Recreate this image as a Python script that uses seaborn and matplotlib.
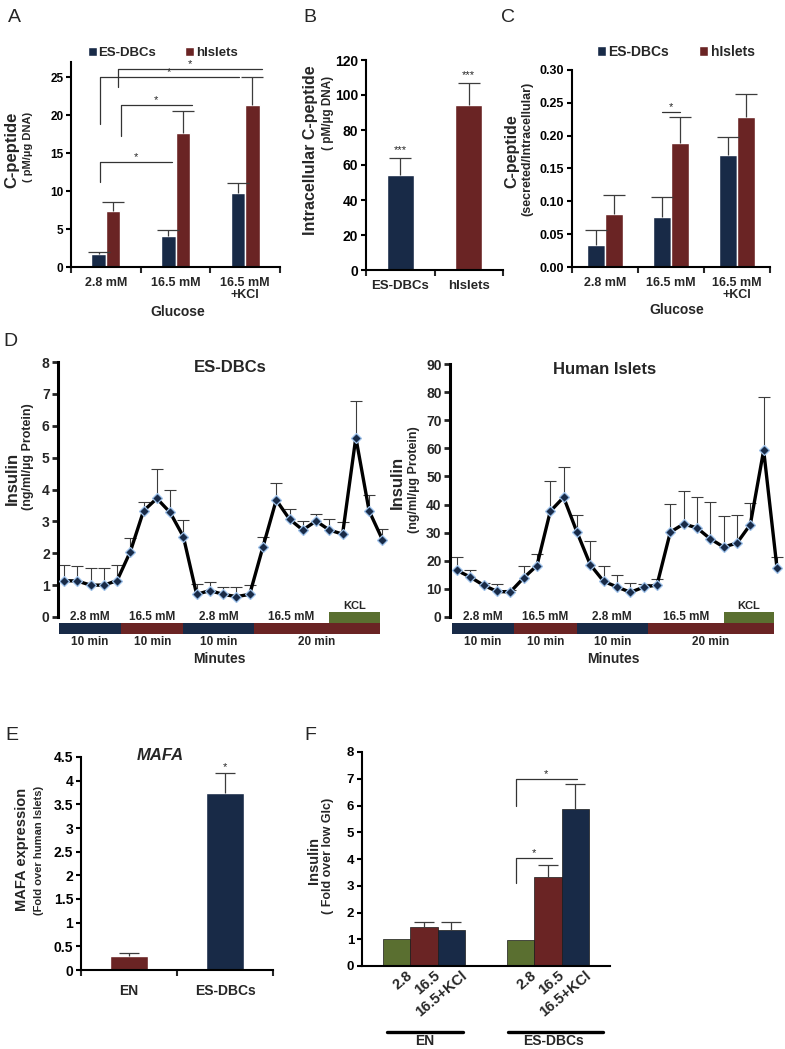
"""
Six-panel figure: C-peptide secretion, intracellular content, perifusion
traces, MAFA expression and insulin fold change (ES-DBCs vs human islets).
"""

import numpy as np
import pandas as pd

import matplotlib
matplotlib.use("Agg")
import matplotlib.pyplot as plt
import seaborn as sns
from matplotlib.patches import Patch, Rectangle
from matplotlib.lines import Line2D
from matplotlib.transforms import ScaledTranslation

sns.set_style("ticks")
plt.rcParams["font.family"] = ["Liberation Sans", "DejaVu Sans"]
plt.rcParams["font.weight"] = "bold"

NAVY = "#182a47"
MAROON = "#6a2424"
GREEN = "#5a6f30"
ERR_COLOR = "#3c3c3c"

# ---- data ----
GLUCOSE = ["2.8 mM", "16.5 mM", "16.5 mM\n+KCl"]
SOURCES = ["ES-DBCs", "hIslets"]

A_ES = [1.75, 4.03, 9.74]
A_ES_ERR = [0.25, 0.79, 1.31]
A_HI = [7.37, 17.7, 21.4]
A_HI_ERR = [1.23, 2.9, 3.6]
# (x left, x right, y low, y top)
A_BRACKETS = [(-0.09, 0.95, 11.2, 13.8), (0.22, 1.23, 17.3, 21.3),
              (-0.09, 1.91, 18.9, 25.0), (0.18, 2.24, 23.7, 26.1)]

B_MEAN = [54.3, 94.1]
B_ERR = [9.7, 12.9]

C_ES = [0.033, 0.076, 0.170]
C_ES_ERR = [0.023, 0.030, 0.028]
C_HI = [0.080, 0.189, 0.229]
C_HI_ERR = [0.030, 0.039, 0.035]

D_ES = [1.14, 1.13, 1.00, 1.00, 1.14, 2.05, 3.33, 3.72, 3.28, 2.52,
        0.71, 0.83, 0.71, 0.64, 0.71, 2.20, 3.67, 3.07, 2.73, 3.01,
        2.73, 2.60, 5.63, 3.33, 2.43]
D_ES_ERR = [0.49, 0.48, 0.55, 0.53, 0.49, 0.44, 0.29, 0.92, 0.72, 0.52,
            0.31, 0.26, 0.24, 0.31, 0.29, 0.32, 0.54, 0.31, 0.28, 0.22,
            0.34, 0.39, 1.14, 0.49, 0.32]
D_HI = [16.6, 14.2, 11.3, 9.1, 8.9, 13.9, 18.3, 37.6, 42.6, 30.2,
        18.6, 12.7, 10.7, 8.8, 10.6, 11.4, 30.2, 33.1, 31.7, 27.8,
        24.9, 26.3, 32.9, 59.3, 17.4]
D_HI_ERR = [4.8, 2.6, 0.7, 2.6, 0.6, 4.1, 4.1, 10.7, 10.8, 6.0,
            8.3, 5.3, 4.1, 3.3, 1.3, 2.1, 10.0, 11.6, 10.9, 13.0,
            10.9, 9.9, 7.7, 18.9, 4.0]
STEP_LABELS = ["2.8 mM", "16.5 mM", "2.8 mM", "16.5 mM"]
STEP_MINUTES = ["10 min", "10 min", "10 min", "20 min"]
STEP_EDGES = [-0.4, 4.3, 9.0, 14.3, 23.8]
KCL_START = 20.0

E_CELLS = ["EN", "ES-DBCs"]
E_MEAN = [0.29, 3.75]
E_ERR = [0.06, 0.41]

F_CELLS = ["EN", "ES-DBCs"]
F_GLUCOSE = ["2.8", "16.5", "16.5+KCl"]
F_EN = [1.0, 1.46, 1.35]
F_EN_ERR = [0.0, 0.18, 0.28]
F_ES = [0.97, 3.31, 5.88]
F_ES_ERR = [0.0, 0.48, 0.92]
F_BRACKETS = [(0.74, 1.03, 3.1, 4.05), (0.74, 1.23, 6.0, 7.0)]

W, H = 785, 1049
fig = plt.figure(figsize=(W / 100, H / 100), dpi=100)


def px_axes(left, top, right, bottom):
    return fig.add_axes([left / W, 1 - bottom / H, (right - left) / W, (bottom - top) / H])


def px_text(x, y, s, **kw):
    kw.setdefault("ha", "center")
    kw.setdefault("va", "center")
    return fig.text(x / W, 1 - y / H, s, **kw)


def style_axes(ax, ysize, spine_w=1.5):
    sns.despine(ax=ax)
    for side in ("left", "bottom"):
        ax.spines[side].set_linewidth(spine_w)
        ax.spines[side].set_color("black")
    ax.tick_params(axis="y", direction="out", length=3.5, width=spine_w,
                   labelsize=ysize, pad=2, colors="black")
    ax.set_xlabel("")
    ax.set_ylabel("")


def category_axis(ax, n, xsize, pad=7):
    ax.set_xlim(-0.5, n - 0.5)
    ax.set_xticks(np.arange(-0.5, n), minor=True)
    ax.tick_params(axis="x", which="minor", length=4, width=1.5, direction="out")
    ax.tick_params(axis="x", which="major", length=0, labelsize=xsize, pad=pad)
    for lbl in ax.get_xticklabels():
        lbl.set_linespacing(1.0)


def plus_errorbars(ax, xs, ys, errs, capsize, lw=0.9, zorder=3):
    """Excel-style error bars: upper half only, one cap at the top."""
    _, caps, _ = ax.errorbar(xs, ys, yerr=[np.zeros(len(errs)), errs], fmt="none",
                             ecolor=ERR_COLOR, elinewidth=lw, capsize=capsize,
                             capthick=lw, zorder=zorder)
    for cap in caps:
        if np.allclose(cap.get_ydata(), ys):
            cap.set_visible(False)


def bar_errorbars(ax, container, errs, capsize=8):
    xs, ys, es = [], [], []
    for p, e in zip(container, errs):
        if e > 0:
            xs.append(p.get_x() + p.get_width() / 2)
            ys.append(p.get_height())
            es.append(e)
    plus_errorbars(ax, xs, ys, es, capsize)


def brackets(ax, specs, size=8):
    for xl, xr, ylo, ytop in specs:
        ax.plot([xl, xl, xr], [ylo, ytop, ytop], color="#333333", lw=0.9,
                clip_on=False, zorder=4)
        ax.text((xl + xr) / 2, ytop, "*", ha="center", va="bottom", fontsize=size,
                fontweight="normal")


def two_source_legend(ax, x, y, size):
    handles = [Patch(facecolor=NAVY), Patch(facecolor=MAROON)]
    ax.legend(handles, SOURCES, ncol=2, loc="center left", bbox_to_anchor=(x / W, 1 - y / H),
              bbox_transform=fig.transFigure, frameon=False, handlelength=0.65,
              handleheight=0.65, handletextpad=0.15, columnspacing=2.2,
              borderpad=0, borderaxespad=0, prop={"size": size, "weight": "bold"})


# ---- Panel A: secreted C-peptide ----
ax = px_axes(71, 62, 280, 267)
df_a = pd.DataFrame({"glucose": GLUCOSE * 2,
                     "source": [SOURCES[0]] * 3 + [SOURCES[1]] * 3,
                     "cpep": A_ES + A_HI})
sns.barplot(data=df_a, x="glucose", y="cpep", hue="source", hue_order=SOURCES,
            palette=[NAVY, MAROON], width=0.42, errorbar=None, legend=False,
            saturation=1, ax=ax)
bars = list(ax.containers)
bar_errorbars(ax, bars[0], A_ES_ERR)
bar_errorbars(ax, bars[1], A_HI_ERR)
style_axes(ax, 8.5)
ax.set_ylim(0, 27)
ax.set_yticks(range(0, 26, 5))
category_axis(ax, 3, 9)
brackets(ax, A_BRACKETS)
two_source_legend(ax, 88, 53, 9.5)
px_text(12, 150, "C-peptide", rotation=90, fontsize=12)
px_text(28, 147, "( pM/µg DNA)", rotation=90, fontsize=8)
px_text(178, 312, "Glucose", fontsize=10)

# ---- Panel B: intracellular C-peptide ----
ax = px_axes(366, 60, 503, 270)
df_b = pd.DataFrame({"source": SOURCES, "cpep": B_MEAN})
sns.barplot(data=df_b, x="source", y="cpep", hue="source", palette=[NAVY, MAROON],
            width=0.4, errorbar=None, legend=False, saturation=1, ax=ax)
bars = list(ax.containers)
for cont, e in zip(bars, B_ERR):
    bar_errorbars(ax, cont, [e])
    p = cont[0]
    ax.text(p.get_x() + p.get_width() / 2, p.get_height() + e + 1.5, "***",
            ha="center", va="bottom", fontsize=8, fontweight="normal")
style_axes(ax, 10)
ax.set_ylim(0, 120)
ax.set_yticks(range(0, 121, 20))
category_axis(ax, 2, 9.5)
px_text(311, 150, "Intracellular C-peptide", rotation=90, fontsize=11.5)
px_text(328, 113, "( pM/µg DNA)", rotation=90, fontsize=8.5)

# ---- Panel C: secreted / intracellular ratio ----
ax = px_axes(572, 70, 770, 267)
df_c = pd.DataFrame({"glucose": GLUCOSE * 2,
                     "source": [SOURCES[0]] * 3 + [SOURCES[1]] * 3,
                     "ratio": C_ES + C_HI})
sns.barplot(data=df_c, x="glucose", y="ratio", hue="source", hue_order=SOURCES,
            palette=[NAVY, MAROON], width=0.56, errorbar=None, legend=False,
            saturation=1, ax=ax)
bars = list(ax.containers)
bar_errorbars(ax, bars[0], C_ES_ERR)
bar_errorbars(ax, bars[1], C_HI_ERR)
style_axes(ax, 9)
ax.set_ylim(0, 0.30)
c_ticks = np.arange(0, 0.31, 0.05)
ax.set_yticks(c_ticks)
ax.set_yticklabels([f"{v:.2f}" for v in c_ticks])
category_axis(ax, 3, 9)
x0 = bars[0][1].get_x() + bars[0][1].get_width() / 2
x1 = bars[1][1].get_x() + bars[1][1].get_width() / 2
ax.plot([x0, x1], [0.236, 0.236], color="#333333", lw=0.9)
ax.text((x0 + x1) / 2, 0.236, "*", ha="center", va="bottom", fontsize=8, fontweight="normal")
two_source_legend(ax, 597, 52, 10)
px_text(512, 151, "C-peptide", rotation=90, fontsize=11.5)
px_text(527, 149, "(secreted/Intracellular)", rotation=90, fontsize=9)
px_text(677, 310, "Glucose", fontsize=10)


# ---- Panel D: perifusion traces ----
def perifusion(ax, means, errs, ymax, ystep, title, title_xy):
    idx = np.arange(len(means))
    plus_errorbars(ax, idx, means, errs, capsize=4.5, lw=0.8, zorder=1)
    sns.lineplot(x=idx, y=means, ax=ax, color="black", linewidth=2.4, marker="D",
                 markersize=5, markerfacecolor=NAVY, markeredgecolor="#9dc1ea",
                 markeredgewidth=0.9, errorbar=None, zorder=3)
    sns.despine(ax=ax, bottom=True)
    ax.spines["left"].set_linewidth(2.2)
    ax.spines["left"].set_color("black")
    ax.set_ylim(0, ymax)
    ax.set_yticks(np.arange(0, ymax + 0.01, ystep))
    ax.set_xticks([])
    ax.tick_params(axis="y", direction="out", length=4, width=2, labelsize=10, pad=2)
    ax.set_xlabel("")
    ax.set_ylabel("")

    trans = ax.get_xaxis_transform()
    colors = [NAVY, MAROON, NAVY, MAROON]
    for k in range(4):
        lo, hi = STEP_EDGES[k], STEP_EDGES[k + 1]
        ax.add_patch(Rectangle((lo, -0.067), hi - lo, 0.044, transform=trans,
                               facecolor=colors[k], edgecolor="none", clip_on=False))
        top_mid = (lo + min(hi, KCL_START)) / 2
        ax.text(top_mid, -0.022, STEP_LABELS[k], transform=trans, ha="center",
                va="bottom", fontsize=8.5)
        ax.text((lo + hi) / 2, -0.098, STEP_MINUTES[k], transform=trans, ha="center",
                va="center", fontsize=8.5)
    ax.add_patch(Rectangle((KCL_START, -0.0235), STEP_EDGES[-1] - KCL_START, 0.043,
                           transform=trans, facecolor=GREEN, edgecolor="none",
                           clip_on=False))
    ax.text((KCL_START + STEP_EDGES[-1]) / 2, 0.022, "KCL", transform=trans,
            ha="center", va="bottom", fontsize=8)
    ax.text((STEP_EDGES[0] + STEP_EDGES[-1]) / 2, -0.165, "Minutes", transform=trans,
            ha="center", va="center", fontsize=10)
    px_text(title_xy[0], title_xy[1], title, fontsize=12)


ax = px_axes(58, 362, 389, 617)
perifusion(ax, D_ES, D_ES_ERR, 8, 1, "ES-DBCs", (230, 368))
ax.set_xlim(-0.45, 24.5)
px_text(12, 478, "Insulin", rotation=90, fontsize=12)
px_text(28, 457, "(ng/ml/µg Protein)", rotation=90, fontsize=9)

ax = px_axes(450, 364, 783, 617)
perifusion(ax, D_HI, D_HI_ERR, 90, 10, "Human Islets", (605, 369))
ax.set_xlim(-0.52, 24.45)
px_text(397, 482, "Insulin", rotation=90, fontsize=12)
px_text(414, 480, "(ng/ml/µg Protein)", rotation=90, fontsize=9)

# ---- Panel E: MAFA expression ----
ax = px_axes(81, 757, 273, 970)
df_e = pd.DataFrame({"cells": E_CELLS, "mafa": E_MEAN})
sns.barplot(data=df_e, x="cells", y="mafa", hue="cells", palette=[MAROON, NAVY],
            width=0.4, errorbar=None, legend=False, saturation=1, ax=ax)
bars = list(ax.containers)
for cont, e in zip(bars, E_ERR):
    bar_errorbars(ax, cont, [e], capsize=7)
p = bars[1][0]
ax.text(p.get_x() + p.get_width() / 2, E_MEAN[1] + E_ERR[1] + 0.03, "*",
        ha="center", va="bottom", fontsize=8, fontweight="normal")
style_axes(ax, 10)
ax.set_ylim(0, 4.5)
e_ticks = np.arange(0, 4.51, 0.5)
ax.set_yticks(e_ticks)
ax.set_yticklabels([f"{v:g}" for v in e_ticks])
category_axis(ax, 2, 10, pad=10)
px_text(160, 756, "MAFA", fontsize=12, style="italic")
px_text(22, 849, "MAFA expression", rotation=90, fontsize=10.5)
px_text(39, 850, "(Fold over human Islets)", rotation=90, fontsize=8)

# ---- Panel F: insulin fold change ----
ax = px_axes(362, 752, 610, 966)
df_f = pd.DataFrame({"cells": [F_CELLS[0]] * 3 + [F_CELLS[1]] * 3,
                     "glucose": F_GLUCOSE * 2,
                     "fold": F_EN + F_ES})
sns.barplot(data=df_f, x="cells", y="fold", hue="glucose", hue_order=F_GLUCOSE,
            palette=[GREEN, MAROON, NAVY], width=0.66, errorbar=None, legend=False,
            saturation=1, edgecolor="#1a1a1a", linewidth=0.5, ax=ax)
bars = list(ax.containers)
centers, labels = [], []
for k, cont in enumerate(bars):
    bar_errorbars(ax, cont, [F_EN_ERR[k], F_ES_ERR[k]], capsize=7)
    for p in cont:
        centers.append(p.get_x() + p.get_width() / 2)
        labels.append(F_GLUCOSE[k])
style_axes(ax, 9.5)
ax.set_ylim(0, 8)
ax.set_yticks(range(0, 9))
ax.set_xticks(centers, labels, rotation=40, ha="right", rotation_mode="anchor")
ax.set_xlim(-0.5, 1.5)
ax.tick_params(axis="x", length=0, labelsize=10.5, pad=2)
for lbl in ax.get_xticklabels():
    lbl.set_transform(lbl.get_transform() + ScaledTranslation(7 / 72, 0, fig.dpi_scale_trans))
brackets(ax, F_BRACKETS)
for (xl, xr), name, xc in [((387, 463), "EN", 425), ((508, 603), "ES-DBCs", 553)]:
    fig.add_artist(Line2D([xl / W, xr / W], [1 - 1032 / H] * 2, color="black", lw=2.4))
    px_text(xc, 1041, name, fontsize=10)
px_text(314, 860, "Insulin", rotation=90, fontsize=10.5)
px_text(328, 856, "( Fold over low Glc)", rotation=90, fontsize=9)

# ---- panel letters ----
for letter, (x, y) in {"A": (14, 17), "B": (310, 17), "C": (508, 17), "D": (10, 341),
                       "E": (12, 735), "F": (310, 735)}.items():
    px_text(x, y, letter, fontsize=14, fontweight="normal")

fig.savefig("out.png", dpi=100, facecolor="white")
plt.close(fig)
